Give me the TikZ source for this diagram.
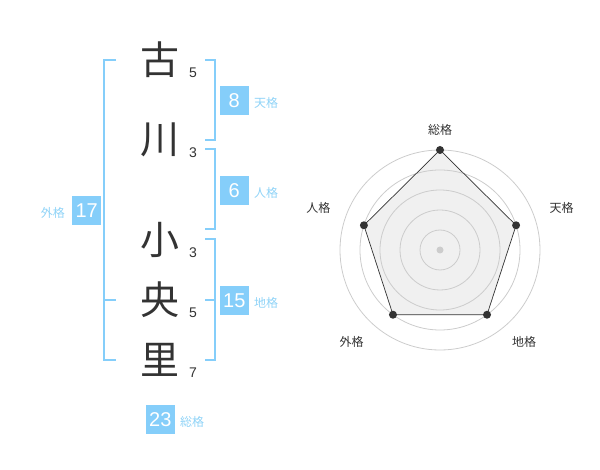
\documentclass[tikz,border=0pt]{standalone}
\usepackage{fontspec}
\setmainfont{Liberation Sans}
\newfontfamily\jp{Noto Sans CJK JP}
\usepackage{xcolor}
\usepackage{tikz}
\usetikzlibrary{positioning, calc}
\definecolor{skyblue}{HTML}{85CEFA}
\definecolor{skytext}{HTML}{8FD3F7}
\definecolor{ink}{HTML}{333333}
\definecolor{ringgray}{HTML}{CCCCCC}
\definecolor{webfill}{HTML}{F0F0F0}
\tikzstyle{kanji} = [inner sep=0pt, text=ink, font=\jp\fontsize{39}{39}\selectfont]
\tikzstyle{stroke} = [inner sep=0pt, text=ink, font=\fontsize{14}{14}\selectfont]
\tikzstyle{numbox} = [rectangle, fill=skyblue, text=white, minimum size=28.7pt, inner sep=0pt, font=\fontsize{20}{20}\selectfont]
\tikzstyle{gradelabel} = [inner sep=0pt, text=skytext, font=\jp\fontsize{12}{12}\selectfont]
\tikzstyle{bracket} = [draw=skyblue, line width=2pt]
\tikzstyle{ring} = [draw=ringgray, line width=0.8pt]
\tikzstyle{dot} = [circle, fill=ink, inner sep=0pt, minimum size=8pt]
\tikzstyle{axislabel} = [inner sep=0pt, text=ink, font=\jp\fontsize{12}{12}\selectfont]

\begin{document}
\begin{tikzpicture}[x=1pt, y=-1pt]
		\useasboundingbox (0,0) rectangle (600,470);
		
		% name
		\node (Ko) [kanji] at (160,60) {古};
		\node (Kawa) [kanji] at (160,140) {川};
		\node (Chii) [kanji] at (160,240) {小};
		\node (Naka) [kanji] at (160,300) {央};
		\node (Sato) [kanji] at (160,360) {里};
		\node (KoN) [stroke] at (193,73) {5};
		\node (KawaN) [stroke] at (193,153) {3};
		\node (ChiiN) [stroke] at (193,253) {3};
		\node (NakaN) [stroke] at (193,313) {5};
		\node (SatoN) [stroke] at (193,373) {7};
		
		% brackets
		\draw [bracket] (116,60) -- (104.3,60) -- (104.3,360) -- (116,360);
		\draw [bracket] (104.3,300) -- (116,300);
		\draw [bracket] (205,60) -- (214.7,60) -- (214.7,140) -- (205,140);
		\draw [bracket] (205,149.3) -- (214.7,149.3) -- (214.7,229.3) -- (205,229.3);
		\draw [bracket] (205,239.3) -- (214.7,239.3) -- (214.7,360) -- (205,360);
		\draw [bracket] (205,300) -- (214.7,300);
		
		% grades
		\node (Ten) [numbox] at (234.3,100.3) {8};
		\node (Jin) [numbox] at (234.3,190.3) {6};
		\node (Chi) [numbox] at (234.3,300.3) {15};
		\node (Gai) [numbox] at (86.7,210.3) {17};
		\node (So) [numbox] at (160.3,419.2) {23};
		\node (TenL) [gradelabel, right=5pt of Ten, yshift=-3pt] {天格};
		\node (JinL) [gradelabel, right=5pt of Jin, yshift=-3pt] {人格};
		\node (ChiL) [gradelabel, right=5pt of Chi, yshift=-3pt] {地格};
		\node (GaiL) [gradelabel, left=7pt of Gai, yshift=-3pt] {外格};
		\node (SoL) [gradelabel, right=5pt of So, yshift=-3pt] {総格};
		
		% radar
		\coordinate (C) at (440,250);
		\coordinate (Vso) at ($(C)+(-90:100)$);
		\coordinate (Vten) at ($(C)+(-18:80)$);
		\coordinate (Vchi) at ($(C)+(54:80)$);
		\coordinate (Vgai) at ($(C)+(126:80)$);
		\coordinate (Vjin) at ($(C)+(198:80)$);
		\fill [webfill] (Vso) -- (Vten) -- (Vchi) -- (Vgai) -- (Vjin) -- cycle;
		\foreach \r in {20,40,60,80,100}
			\draw [ring] (C) circle (\r pt);
		\fill [ringgray] (C) circle (3.5pt);
		\draw [ink, line width=0.7pt] (Vso) -- (Vten) -- (Vchi) -- (Vgai) -- (Vjin) -- cycle;
		\foreach \v in {Vso,Vten,Vchi,Vgai,Vjin}
			\node [dot] at (\v) {};
		\node (Lso) [axislabel] at (440,130) {総格};
		\node (Lten) [axislabel] at (561.7,208.3) {天格};
		\node (Lchi) [axislabel] at (524,341.7) {地格};
		\node (Lgai) [axislabel] at (351.7,341.7) {外格};
		\node (Ljin) [axislabel] at (318.3,208.3) {人格};
	\end{tikzpicture}
\end{document}
